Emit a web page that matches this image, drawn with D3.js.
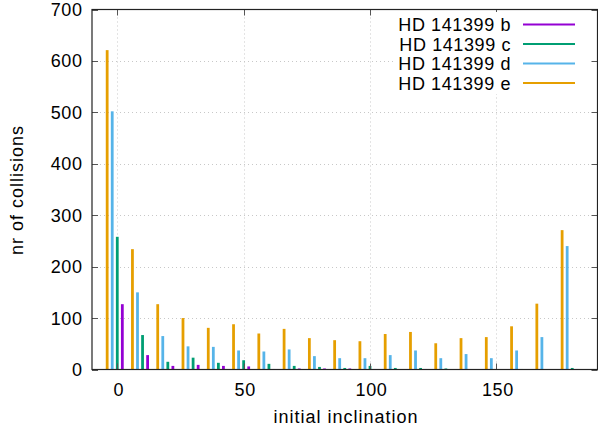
<!DOCTYPE html>
<html>
<head>
<meta charset="utf-8">
<script src="https://cdn.jsdelivr.net/npm/d3@7"></script>
<style>
  body { margin: 0; background: #fff; }
  text { font-family: "Liberation Sans", Arial, sans-serif; fill: #000; font-size: 18px; letter-spacing: 0.6px; }
  .axis-label { letter-spacing: 1px; }
</style>
</head>
<body>
<div id="graph_box"></div>
<script>
// initial inclination groups (degrees)
const inclinations = [0, 10, 20, 30, 40, 50, 60, 70, 80, 90, 100, 110, 120, 130, 140, 150, 160, 170, 180];

// number of collisions per planet
const planetB = [127, 28, 7, 9, 7, 6, 1, 2, 2, 2, 1, 0, 1, 0, 0, 0, 0, 0, 1];
const planetC = [258, 67, 15, 23, 13, 18, 11, 7, 5, 3, 7, 3, 3, 2, 0, 0, 1, 0, 3];
const planetD = [502, 150, 65, 45, 44, 37, 35, 39, 26, 22, 22, 28, 37, 22, 30, 22, 37, 63, 240];
const planetE = [621, 234, 127, 100, 81, 88, 70, 79, 61, 57, 55, 69, 73, 51, 61, 63, 84, 128, 271];

const seriesNames = ["HD 141399 b", "HD 141399 c", "HD 141399 d", "HD 141399 e"];
const seriesColors = ["#9400d3", "#009e73", "#56b4e9", "#e69f00"];
const seriesOffsets = [2, 0, -2, -4];   // bar shift from the group value
const seriesValues = [planetB, planetC, planetD, planetE];

const xTicks = [0, 50, 100, 150];
const yTicks = [0, 100, 200, 300, 400, 500, 600, 700];

const W = 598, H = 432;
const margin = { left: 92, right: 597.5, top: 9.5, bottom: 369.5 };

const svg = d3.select("#graph_box")
    .append("svg")
    .attr("width", W)
    .attr("height", H);

const x = d3.scaleLinear().domain([-10, 190]).range([margin.left, margin.right]);
const y = d3.scaleLinear().domain([0, 700]).range([margin.bottom, margin.top]);

// grid
svg.append("g")
    .selectAll("line")
    .data(xTicks)
    .enter()
    .append("line")
    .attr("x1", d => Math.round(x(d)) + 0.5)
    .attr("x2", d => Math.round(x(d)) + 0.5)
    .attr("y1", margin.top)
    .attr("y2", margin.bottom)
    .attr("stroke", "#c8c8c8")
    .attr("stroke-dasharray", "1,3");

svg.append("g")
    .selectAll("line")
    .data(yTicks.slice(1, -1))
    .enter()
    .append("line")
    .attr("x1", margin.left)
    .attr("x2", margin.right)
    .attr("y1", d => Math.round(y(d)) + 0.5)
    .attr("y2", d => Math.round(y(d)) + 0.5)
    .attr("stroke", "#c8c8c8")
    .attr("stroke-dasharray", "1,3");

// bars
const bw = 1.1;
seriesValues.forEach(function (vals, s) {
    svg.append("g")
        .selectAll("rect")
        .data(vals.map((v, i) => ({ g: inclinations[i], v: v })))
        .enter()
        .append("rect")
        .attr("x", d => x(d.g + seriesOffsets[s] - bw / 2))
        .attr("width", x(bw) - x(0))
        .attr("y", d => y(d.v))
        .attr("height", d => y(0) - y(d.v))
        .attr("fill", seriesColors[s]);
});

// ticks (inward, mirrored)
const tk = 6;
const ticks = svg.append("g").attr("stroke", "#555").attr("stroke-width", 1);
xTicks.forEach(function (t) {
    const px = Math.round(x(t)) + 0.5;
    ticks.append("line").attr("x1", px).attr("x2", px).attr("y1", margin.bottom).attr("y2", margin.bottom - tk);
    ticks.append("line").attr("x1", px).attr("x2", px).attr("y1", margin.top).attr("y2", margin.top + tk);
});
yTicks.forEach(function (t) {
    const py = Math.round(y(t)) + 0.5;
    ticks.append("line").attr("x1", margin.left).attr("x2", margin.left + tk).attr("y1", py).attr("y2", py);
    ticks.append("line").attr("x1", margin.right).attr("x2", margin.right - tk).attr("y1", py).attr("y2", py);
});

// frame
svg.append("rect")
    .attr("x", margin.left)
    .attr("y", margin.top)
    .attr("width", margin.right - margin.left)
    .attr("height", margin.bottom - margin.top)
    .attr("fill", "none")
    .attr("stroke", "#222")
    .attr("stroke-width", 1.2);

// tick labels
svg.append("g")
    .selectAll("text")
    .data(xTicks)
    .enter()
    .append("text")
    .attr("x", d => x(d) + 1.5)
    .attr("y", 396)
    .attr("text-anchor", "middle")
    .text(d => d);

svg.append("g")
    .selectAll("text")
    .data(yTicks)
    .enter()
    .append("text")
    .attr("x", 82.5)
    .attr("y", d => y(d) + 6.5)
    .attr("text-anchor", "end")
    .text(d => d);

// axis labels
svg.append("text")
    .attr("class", "axis-label")
    .attr("x", 346)
    .attr("y", 423)
    .attr("text-anchor", "middle")
    .text("initial inclination");

svg.append("text")
    .attr("class", "axis-label")
    .attr("transform", "translate(23,190) rotate(-90)")
    .attr("text-anchor", "middle")
    .text("nr of collisions");

// legend (opaque key box)
svg.append("rect")
    .attr("x", 393)
    .attr("y", 12)
    .attr("width", 198)
    .attr("height", 82)
    .attr("fill", "#fff");

const legend = svg.append("g");
seriesNames.forEach(function (name, i) {
    const ly = 24.5 + i * 19.5;
    legend.append("text")
        .attr("x", 511)
        .attr("y", ly + 6.5)
        .attr("text-anchor", "end")
        .text(name);
    legend.append("line")
        .attr("x1", 523)
        .attr("x2", 575)
        .attr("y1", ly)
        .attr("y2", ly)
        .attr("stroke", seriesColors[i])
        .attr("stroke-width", 2);
});
</script>
</body>
</html>
